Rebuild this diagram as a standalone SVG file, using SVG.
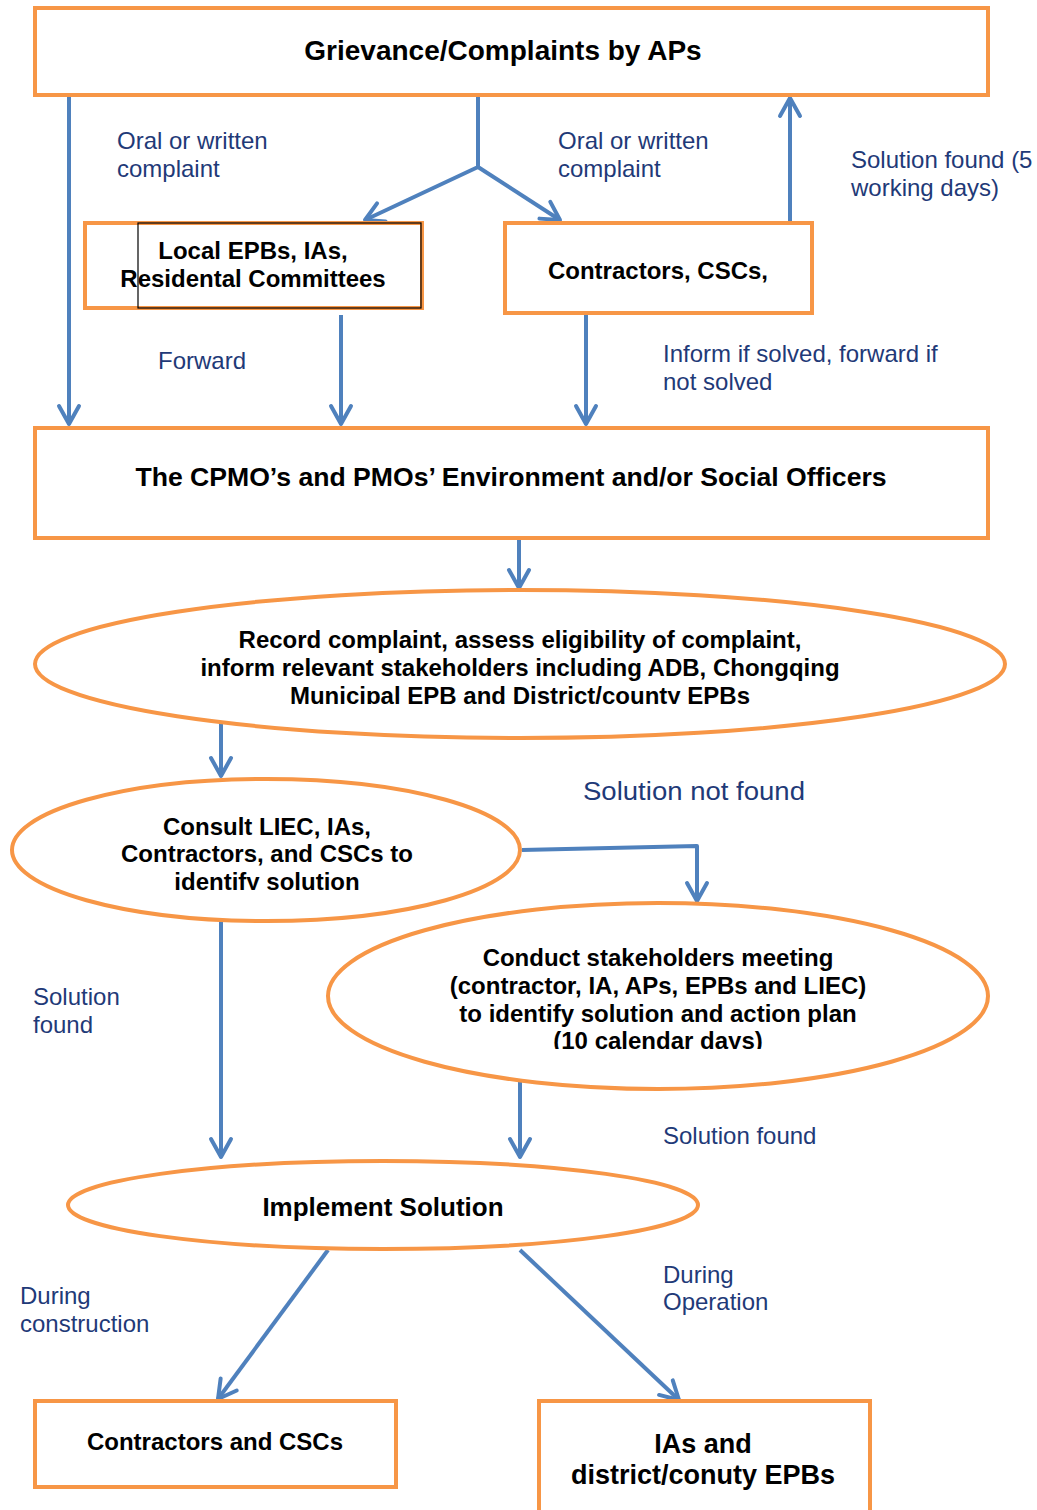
<svg xmlns="http://www.w3.org/2000/svg" width="1037" height="1510" viewBox="0 0 1037 1510">
<style>
.box{fill:#fff;stroke:#F79646;stroke-width:4}
.ell{fill:#fff;stroke:#F79646;stroke-width:4}
.t{font-family:"Liberation Sans",Arial,sans-serif;font-weight:bold;font-size:24px;fill:#000;text-anchor:middle}
.lb{font-family:"Liberation Sans",Arial,sans-serif;font-size:24px;fill:#1F3A78}
.c{fill:none;stroke:#4F81BD;stroke-width:4;stroke-linejoin:round}
</style>
<defs>
<marker id="ah" markerUnits="userSpaceOnUse" viewBox="-22 -14 26 28" refX="0" refY="0" markerWidth="26" markerHeight="28" orient="auto">
<path d="M-18,-10 L0,0 L-18,10" fill="none" stroke="#4F81BD" stroke-width="4" stroke-linecap="round" stroke-linejoin="round"/>
</marker>
<clipPath id="clip1"><rect x="0" y="600" width="1037" height="104"/></clipPath>
<clipPath id="clip2"><rect x="0" y="790" width="1037" height="100"/></clipPath>
<clipPath id="clip3"><rect x="0" y="920" width="1037" height="129"/></clipPath>
</defs>

<g id="connectors">
<path class="c" d="M69,95 V424" marker-end="url(#ah)"/>
<path class="c" d="M478,95 V167 L365,220" marker-end="url(#ah)"/>
<path class="c" d="M478,167 L560,220" marker-end="url(#ah)"/>
<path class="c" d="M790,222 V98" marker-end="url(#ah)"/>
<path class="c" d="M341,315 V424" marker-end="url(#ah)"/>
<path class="c" d="M586,315 V424" marker-end="url(#ah)"/>
<path class="c" d="M519,538 V588" marker-end="url(#ah)"/>
<path class="c" d="M221,720 V776" marker-end="url(#ah)"/>
<path class="c" d="M522,850 L697,846 V901" marker-end="url(#ah)"/>
<path class="c" d="M221,922 V1157" marker-end="url(#ah)"/>
<path class="c" d="M520,1077 V1157" marker-end="url(#ah)"/>
<path class="c" d="M328,1250 L218,1399" marker-end="url(#ah)"/>
<path class="c" d="M520,1250 L679,1400" marker-end="url(#ah)"/>
</g>

<g id="grievance">
<rect class="box" x="35" y="8" width="953" height="87"/>
<text class="t" x="503" y="60" style="font-size:28px">Grievance/Complaints by APs</text>
</g>

<g id="local-epbs">
<rect class="box" x="85" y="223" width="337" height="85"/>
<rect x="138" y="223" width="283" height="85" fill="none" stroke="#000" stroke-width="1.2"/>
<text class="t" x="253" y="259">Local EPBs, IAs,</text>
<text class="t" x="253" y="287">Residental Committees</text>
</g>

<g id="contractors-cscs">
<rect class="box" x="505" y="223" width="307" height="90"/>
<text class="t" x="658" y="279">Contractors, CSCs,</text>
</g>

<g id="cpmo">
<rect class="box" x="35" y="428" width="953" height="110"/>
<text class="t" x="511" y="486" style="font-size:26.6px">The CPMO’s and PMOs’ Environment and/or Social Officers</text>
</g>

<g id="record">
<ellipse class="ell" cx="520" cy="664" rx="485" ry="74"/>
<g clip-path="url(#clip1)">
<text class="t" x="520" y="648">Record complaint, assess eligibility of complaint,</text>
<text class="t" x="520" y="676">inform relevant stakeholders including ADB, Chongqing</text>
<text class="t" x="520" y="704">Municipal EPB and District/county EPBs</text>
</g>
</g>

<g id="consult">
<ellipse class="ell" cx="266" cy="850" rx="254" ry="71"/>
<g clip-path="url(#clip2)">
<text class="t" x="267" y="835">Consult LIEC, IAs,</text>
<text class="t" x="267" y="862">Contractors, and CSCs to</text>
<text class="t" x="267" y="890">identify solution</text>
</g>
</g>

<g id="stakeholders">
<ellipse class="ell" cx="658" cy="996" rx="330" ry="93"/>
<g clip-path="url(#clip3)">
<text class="t" x="658" y="966">Conduct stakeholders meeting</text>
<text class="t" x="658" y="994">(contractor, IA, APs, EPBs and LIEC)</text>
<text class="t" x="658" y="1022">to identify solution and action plan</text>
<text class="t" x="658" y="1049">(10 calendar days)</text>
</g>
</g>

<g id="implement">
<ellipse class="ell" cx="383" cy="1205" rx="315" ry="44"/>
<text class="t" x="383" y="1216" style="font-size:26px">Implement Solution</text>
</g>

<g id="contractors-and-cscs">
<rect class="box" x="35" y="1401" width="361" height="86"/>
<text class="t" x="215" y="1450">Contractors and CSCs</text>
</g>

<g id="ias-epbs">
<rect class="box" x="539" y="1401" width="331" height="116"/>
<text class="t" x="703" y="1453" style="font-size:27px">IAs and</text>
<text class="t" x="703" y="1484" style="font-size:27px">district/conuty EPBs</text>
</g>

<g id="labels">
<text class="lb" x="117" y="149">Oral or written</text>
<text class="lb" x="117" y="177">complaint</text>
<text class="lb" x="558" y="149">Oral or written</text>
<text class="lb" x="558" y="177">complaint</text>
<text class="lb" x="851" y="168">Solution found (5</text>
<text class="lb" x="851" y="196">working days)</text>
<text class="lb" x="158" y="369">Forward</text>
<text class="lb" x="663" y="362">Inform if solved, forward if</text>
<text class="lb" x="663" y="390">not solved</text>
<text class="lb" x="583" y="800" style="font-size:26px" textLength="222" lengthAdjust="spacingAndGlyphs">Solution not found</text>
<text class="lb" x="33" y="1005">Solution</text>
<text class="lb" x="33" y="1033">found</text>
<text class="lb" x="663" y="1144">Solution found</text>
<text class="lb" x="20" y="1304">During</text>
<text class="lb" x="20" y="1332">construction</text>
<text class="lb" x="663" y="1283">During</text>
<text class="lb" x="663" y="1310">Operation</text>
</g>
</svg>
